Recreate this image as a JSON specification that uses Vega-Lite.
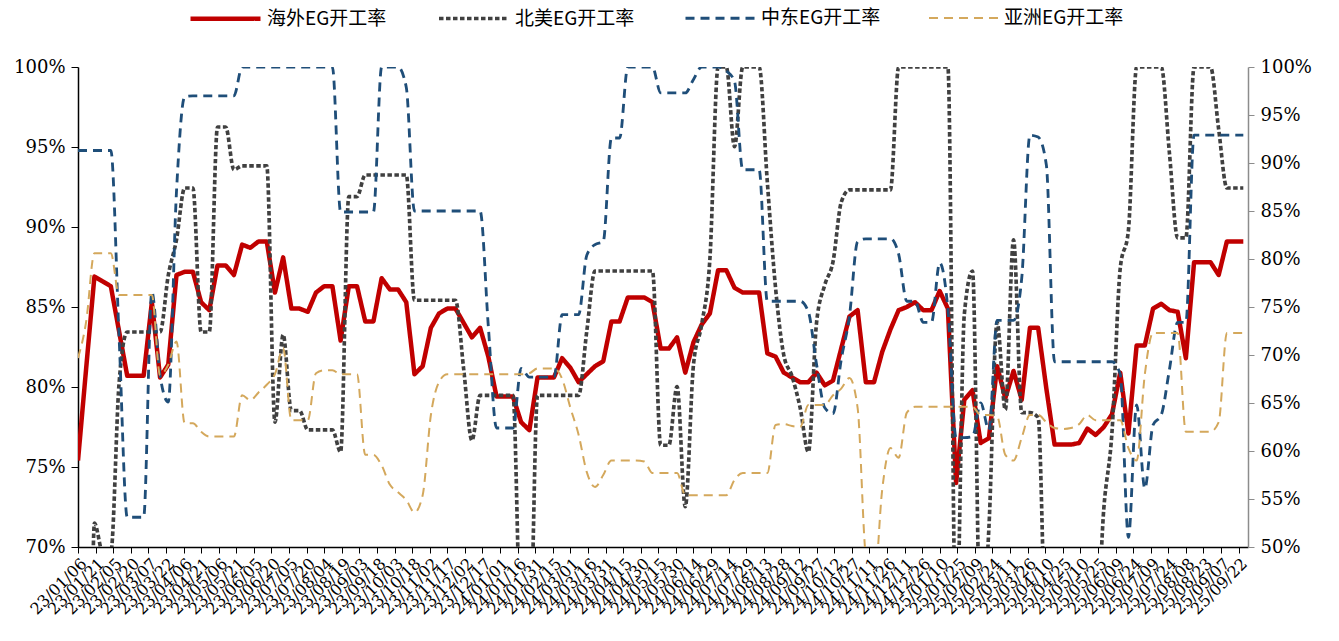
{
"$schema": "https://vega.github.io/schema/vega-lite/v6.json",
"width": 1170, "height": 480,
"autosize": "none",
"padding": {"left": 78, "top": 67, "right": 91, "bottom": 94},
"background": "white",
"config": {"view": {"stroke": null}, "axis": {"grid": false, "title": null, "labelFont": "DejaVu Serif", "labelColor": "#000000"},
 "legend": {"orient": "none", "legendX": 110, "legendY": -86, "direction": "horizontal", "title": null, "symbolType": "stroke", "symbolSize": 4900, "labelFont": "Noto Sans CJK SC", "labelFontSize": 19, "labelColor": "#000000", "labelOffset": 4, "columnPadding": 44, "labelLimit": 300}},
"data": {"values": [
{"date":"2023-01-06","海外EG开工率":75.4,"北美EG开工率":0,"中东EG开工率":91.3,"亚洲EG开工率":69.7},
{"date":"2023-01-13","海外EG开工率":81.2,"北美EG开工率":0,"中东EG开工率":91.3,"亚洲EG开工率":73.5},
{"date":"2023-01-20","海外EG开工率":86.9,"北美EG开工率":52.5,"中东EG开工率":91.3,"亚洲EG开工率":80.6},
{"date":"2023-01-27","海外EG开工率":86.6,"北美EG开工率":49.5,"中东EG开工率":91.3,"亚洲EG开工率":80.6},
{"date":"2023-02-03","海外EG开工率":86.3,"北美EG开工率":49.5,"中东EG开工率":91.3,"亚洲EG开工率":80.6},
{"date":"2023-02-10","海外EG开工率":83.5,"北美EG开工率":67,"中东EG开工率":72,"亚洲EG开工率":76.25},
{"date":"2023-02-17","海外EG开工率":80.7,"北美EG开工率":72.4,"中东EG开工率":53.1,"亚洲EG开工率":76.25},
{"date":"2023-02-24","海外EG开工率":80.7,"北美EG开工率":72.4,"中东EG开工率":53.1,"亚洲EG开工率":76.25},
{"date":"2023-03-03","海外EG开工率":80.7,"北美EG开工率":72.4,"中东EG开工率":53.1,"亚洲EG开工率":76.25},
{"date":"2023-03-10","海外EG开工率":85.3,"北美EG开工率":72.4,"中东EG开工率":76.6,"亚洲EG开工率":76.25},
{"date":"2023-03-17","海外EG开工率":80.6,"北美EG开工率":72.4,"中东EG开工率":67.9,"亚洲EG开工率":67.9},
{"date":"2023-03-24","海外EG开工率":81.4,"北美EG开工率":78.3,"中东EG开工率":65.1,"亚洲EG开工率":69.0},
{"date":"2023-03-31","海外EG开工率":87.0,"北美EG开工率":82,"中东EG开工率":87,"亚洲EG开工率":71.4},
{"date":"2023-04-07","海外EG开工率":87.2,"北美EG开工率":87.4,"中东EG开工率":96.9,"亚洲EG开工率":62.9},
{"date":"2023-04-14","海外EG开工率":87.2,"北美EG开工率":87.4,"中东EG开工率":97.0,"亚洲EG开工率":62.9},
{"date":"2023-04-21","海外EG开工率":85.3,"北美EG开工率":72.4,"中东EG开工率":97.0,"亚洲EG开工率":62.0},
{"date":"2023-04-28","海外EG开工率":84.8,"北美EG开工率":72.4,"中东EG开工率":97.0,"亚洲EG开工率":61.5},
{"date":"2023-05-05","海外EG开工率":87.6,"北美EG开工率":93.75,"中东EG开工率":97.0,"亚洲EG开工率":61.5},
{"date":"2023-05-12","海外EG开工率":87.6,"北美EG开工率":93.75,"中东EG开工率":97.0,"亚洲EG开工率":61.5},
{"date":"2023-05-19","海外EG开工率":87.0,"北美EG开工率":89.3,"中东EG开工率":97.0,"亚洲EG开工率":61.5},
{"date":"2023-05-26","海外EG开工率":88.9,"北美EG开工率":89.7,"中东EG开工率":100,"亚洲EG开工率":65.8},
{"date":"2023-06-02","海外EG开工率":88.7,"北美EG开工率":89.7,"中东EG开工率":100,"亚洲EG开工率":65.3},
{"date":"2023-06-09","海外EG开工率":89.1,"北美EG开工率":89.7,"中东EG开工率":100,"亚洲EG开工率":66.1},
{"date":"2023-06-16","海外EG开工率":89.1,"北美EG开工率":89.7,"中东EG开工率":100,"亚洲EG开工率":66.9},
{"date":"2023-06-23","海外EG开工率":85.9,"北美EG开工率":63.0,"中东EG开工率":100,"亚洲EG开工率":68.0},
{"date":"2023-06-30","海外EG开工率":88.1,"北美EG开工率":72.1,"中东EG开工率":100,"亚洲EG开工率":70.7},
{"date":"2023-07-07","海外EG开工率":84.9,"北美EG开工率":64.2,"中东EG开工率":100,"亚洲EG开工率":63.2},
{"date":"2023-07-14","海外EG开工率":84.9,"北美EG开工率":64.2,"中东EG开工率":100,"亚洲EG开工率":63.2},
{"date":"2023-07-21","海外EG开工率":84.7,"北美EG开工率":62.2,"中东EG开工率":100,"亚洲EG开工率":63.2},
{"date":"2023-07-28","海外EG开工率":85.9,"北美EG开工率":62.2,"中东EG开工率":100,"亚洲EG开工率":68.1},
{"date":"2023-08-04","海外EG开工率":86.3,"北美EG开工率":62.2,"中东EG开工率":100,"亚洲EG开工率":68.4},
{"date":"2023-08-11","海外EG开工率":86.3,"北美EG开工率":62.2,"中东EG开工率":100,"亚洲EG开工率":68.4},
{"date":"2023-08-18","海外EG开工率":82.9,"北美EG开工率":59.9,"中东EG开工率":84.9,"亚洲EG开工率":68.0},
{"date":"2023-08-25","海外EG开工率":86.3,"北美EG开工率":86.5,"中东EG开工率":84.9,"亚洲EG开工率":68.0},
{"date":"2023-09-01","海外EG开工率":86.3,"北美EG开工率":86.5,"中东EG开工率":84.9,"亚洲EG开工率":68.0},
{"date":"2023-09-08","海外EG开工率":84.1,"北美EG开工率":88.75,"中东EG开工率":84.9,"亚洲EG开工率":59.6},
{"date":"2023-09-15","海外EG开工率":84.1,"北美EG开工率":88.75,"中东EG开工率":84.9,"亚洲EG开工率":59.6},
{"date":"2023-09-22","海外EG开工率":86.8,"北美EG开工率":88.75,"中东EG开工率":100,"亚洲EG开工率":58.5},
{"date":"2023-09-29","海外EG开工率":86.1,"北美EG开工率":88.75,"中东EG开工率":100,"亚洲EG开工率":56.5},
{"date":"2023-10-06","海外EG开工率":86.1,"北美EG开工率":88.75,"中东EG开工率":100,"亚洲EG开工率":55.7},
{"date":"2023-10-13","海外EG开工率":85.3,"北美EG开工率":88.75,"中东EG开工率":97.9,"亚洲EG开工率":54.9},
{"date":"2023-10-20","海外EG开工率":80.8,"北美EG开工率":75.7,"中东EG开工率":85.0,"亚洲EG开工率":53.6},
{"date":"2023-10-27","海外EG开工率":81.3,"北美EG开工率":75.7,"中东EG开工率":85.0,"亚洲EG开工率":55.4},
{"date":"2023-11-03","海外EG开工率":83.7,"北美EG开工率":75.7,"中东EG开工率":85.0,"亚洲EG开工率":63.75},
{"date":"2023-11-10","海外EG开工率":84.6,"北美EG开工率":75.7,"中东EG开工率":85.0,"亚洲EG开工率":67.2},
{"date":"2023-11-17","海外EG开工率":84.9,"北美EG开工率":75.7,"中东EG开工率":85.0,"亚洲EG开工率":68.0},
{"date":"2023-11-24","海外EG开工率":84.9,"北美EG开工率":75.7,"中东EG开工率":85.0,"亚洲EG开工率":68.0},
{"date":"2023-12-01","海外EG开工率":84.0,"北美EG开工率":68.5,"中东EG开工率":85.0,"亚洲EG开工率":68.0},
{"date":"2023-12-08","海外EG开工率":83.1,"北美EG开工率":61.1,"中东EG开工率":85.0,"亚洲EG开工率":68.0},
{"date":"2023-12-15","海外EG开工率":83.7,"北美EG开工率":65.8,"中东EG开工率":85.0,"亚洲EG开工率":68.0},
{"date":"2023-12-22","海外EG开工率":81.9,"北美EG开工率":65.8,"中东EG开工率":73,"亚洲EG开工率":68.0},
{"date":"2023-12-29","海外EG开工率":79.4,"北美EG开工率":65.8,"中东EG开工率":62.4,"亚洲EG开工率":68.0},
{"date":"2024-01-05","海外EG开工率":79.4,"北美EG开工率":65.8,"中东EG开工率":62.4,"亚洲EG开工率":68.0},
{"date":"2024-01-12","海外EG开工率":79.4,"北美EG开工率":65.8,"中东EG开工率":62.4,"亚洲EG开工率":68.0},
{"date":"2024-01-19","海外EG开工率":77.8,"北美EG开工率":40,"中东EG开工率":68.6,"亚洲EG开工率":68.0},
{"date":"2024-01-26","海外EG开工率":77.3,"北美EG开工率":38,"中东EG开工率":67.7,"亚洲EG开工率":68.1},
{"date":"2024-02-02","海外EG开工率":80.6,"北美EG开工率":65.8,"中东EG开工率":67.7,"亚洲EG开工率":68.6},
{"date":"2024-02-09","海外EG开工率":80.6,"北美EG开工率":65.8,"中东EG开工率":67.7,"亚洲EG开工率":68.6},
{"date":"2024-02-16","海外EG开工率":80.6,"北美EG开工率":65.8,"中东EG开工率":67.7,"亚洲EG开工率":68.6},
{"date":"2024-02-23","海外EG开工率":81.8,"北美EG开工率":65.8,"中东EG开工率":74.2,"亚洲EG开工率":67.5},
{"date":"2024-03-01","海外EG开工率":81.2,"北美EG开工率":65.8,"中东EG开工率":74.2,"亚洲EG开工率":64.5},
{"date":"2024-03-08","海外EG开工率":80.3,"北美EG开工率":65.8,"中东EG开工率":74.2,"亚洲EG开工率":61.7},
{"date":"2024-03-15","海外EG开工率":80.8,"北美EG开工率":72.5,"中东EG开工率":80.4,"亚洲EG开工率":57.8},
{"date":"2024-03-22","海外EG开工率":81.3,"北美EG开工率":78.75,"中东EG开工率":81.5,"亚洲EG开工率":56.25},
{"date":"2024-03-29","海外EG开工率":81.6,"北美EG开工率":78.75,"中东EG开工率":81.8,"亚洲EG开工率":57.5},
{"date":"2024-04-05","海外EG开工率":84.1,"北美EG开工率":78.75,"中东EG开工率":92.6,"亚洲EG开工率":59.0},
{"date":"2024-04-12","海外EG开工率":84.1,"北美EG开工率":78.75,"中东EG开工率":92.6,"亚洲EG开工率":59.0},
{"date":"2024-04-19","海外EG开工率":85.6,"北美EG开工率":78.75,"中东EG开工率":100,"亚洲EG开工率":59.0},
{"date":"2024-04-26","海外EG开工率":85.6,"北美EG开工率":78.75,"中东EG开工率":100,"亚洲EG开工率":59.0},
{"date":"2024-05-03","海外EG开工率":85.6,"北美EG开工率":78.75,"中东EG开工率":100,"亚洲EG开工率":58.9},
{"date":"2024-05-10","海外EG开工率":85.3,"北美EG开工率":78.75,"中东EG开工率":100,"亚洲EG开工率":57.7},
{"date":"2024-05-17","海外EG开工率":82.4,"北美EG开工率":60.6,"中东EG开工率":97.3,"亚洲EG开工率":57.7},
{"date":"2024-05-24","海外EG开工率":82.4,"北美EG开工率":60.6,"中东EG开工率":97.3,"亚洲EG开工率":57.7},
{"date":"2024-05-31","海外EG开工率":83.1,"北美EG开工率":66.7,"中东EG开工率":97.3,"亚洲EG开工率":57.7},
{"date":"2024-06-07","海外EG开工率":80.9,"北美EG开工率":54.2,"中东EG开工率":97.3,"亚洲EG开工率":55.4},
{"date":"2024-06-14","海外EG开工率":82.8,"北美EG开工率":69,"中东EG开工率":98.7,"亚洲EG开工率":55.4},
{"date":"2024-06-21","海外EG开工率":83.9,"北美EG开工率":73.2,"中东EG开工率":100,"亚洲EG开工率":55.4},
{"date":"2024-06-28","海外EG开工率":84.6,"北美EG开工率":80,"中东EG开工率":100,"亚洲EG开工率":55.4},
{"date":"2024-07-05","海外EG开工率":87.3,"北美EG开工率":100,"中东EG开工率":100,"亚洲EG开工率":55.4},
{"date":"2024-07-12","海外EG开工率":87.3,"北美EG开工率":100,"中东EG开工率":99.6,"亚洲EG开工率":55.4},
{"date":"2024-07-19","海外EG开工率":86.2,"北美EG开工率":91.7,"中东EG开工率":98.5,"亚洲EG开工率":57.0},
{"date":"2024-07-26","海外EG开工率":85.9,"北美EG开工率":100,"中东EG开工率":89.3,"亚洲EG开工率":57.7},
{"date":"2024-08-02","海外EG开工率":85.9,"北美EG开工率":100,"中东EG开工率":89.3,"亚洲EG开工率":57.7},
{"date":"2024-08-09","海外EG开工率":85.9,"北美EG开工率":100,"中东EG开工率":89.3,"亚洲EG开工率":57.7},
{"date":"2024-08-16","海外EG开工率":82.1,"北美EG开工率":88,"中东EG开工率":75.6,"亚洲EG开工率":57.7},
{"date":"2024-08-23","海外EG开工率":81.9,"北美EG开工率":77,"中东EG开工率":75.6,"亚洲EG开工率":62.7},
{"date":"2024-08-30","海外EG开工率":80.9,"北美EG开工率":70,"中东EG开工率":75.6,"亚洲EG开工率":62.8},
{"date":"2024-09-06","海外EG开工率":80.6,"北美EG开工率":67.8,"中东EG开工率":75.6,"亚洲EG开工率":62.6},
{"date":"2024-09-13","海外EG开工率":80.3,"北美EG开工率":64.5,"中东EG开工率":75.6,"亚洲EG开工率":62.5},
{"date":"2024-09-20","海外EG开工率":80.3,"北美EG开工率":59.9,"中东EG开工率":74.5,"亚洲EG开工率":64.8},
{"date":"2024-09-27","海外EG开工率":80.9,"北美EG开工率":73.4,"中东EG开工率":69,"亚洲EG开工率":64.8},
{"date":"2024-10-04","海外EG开工率":80.1,"北美EG开工率":77.3,"中东EG开工率":64.5,"亚洲EG开工率":64.8},
{"date":"2024-10-11","海外EG开工率":80.4,"北美EG开工率":79.7,"中东EG开工率":63.9,"亚洲EG开工率":65.8},
{"date":"2024-10-18","海外EG开工率":82.4,"北美EG开工率":85.9,"中东EG开工率":69.5,"亚洲EG开工率":66.5},
{"date":"2024-10-25","海外EG开工率":84.4,"北美EG开工率":87.2,"中东EG开工率":74.0,"亚洲EG开工率":67.6},
{"date":"2024-11-01","海外EG开工率":84.8,"北美EG开工率":87.2,"中东EG开工率":81.8,"亚洲EG开工率":64.5},
{"date":"2024-11-08","海外EG开工率":80.3,"北美EG开工率":87.2,"中东EG开工率":82.1,"亚洲EG开工率":49},
{"date":"2024-11-15","海外EG开工率":80.3,"北美EG开工率":87.2,"中东EG开工率":82.1,"亚洲EG开工率":46},
{"date":"2024-11-22","海外EG开工率":82.2,"北美EG开工率":87.2,"中东EG开工率":82.1,"亚洲EG开工率":56},
{"date":"2024-11-29","海外EG开工率":83.6,"北美EG开工率":87.2,"中东EG开工率":82.1,"亚洲EG开工率":60.3},
{"date":"2024-12-06","海外EG开工率":84.8,"北美EG开工率":100,"中东EG开工率":80.5,"亚洲EG开工率":59.3},
{"date":"2024-12-13","海外EG开工率":85.0,"北美EG开工率":100,"中东EG开工率":75.6,"亚洲EG开工率":64.0},
{"date":"2024-12-20","海外EG开工率":85.3,"北美EG开工率":100,"中东EG开工率":75.6,"亚洲EG开工率":64.6},
{"date":"2024-12-27","海外EG开工率":84.8,"北美EG开工率":100,"中东EG开工率":73.4,"亚洲EG开工率":64.6},
{"date":"2025-01-03","海外EG开工率":84.8,"北美EG开工率":100,"中东EG开工率":73.4,"亚洲EG开工率":64.6},
{"date":"2025-01-10","海外EG开工率":86.0,"北美EG开工率":100,"中东EG开工率":79.6,"亚洲EG开工率":64.6},
{"date":"2025-01-17","海外EG开工率":84.9,"北美EG开工率":100,"中东EG开工率":74.8,"亚洲EG开工率":64.6},
{"date":"2025-01-24","海外EG开工率":74.0,"北美EG开工率":40,"中东EG开工率":61.4,"亚洲EG开工率":64.6},
{"date":"2025-01-31","海外EG开工率":79.2,"北美EG开工率":74.2,"中东EG开工率":61.4,"亚洲EG开工率":64.6},
{"date":"2025-02-07","海外EG开工率":79.8,"北美EG开工率":78.75,"中东EG开工率":61.5,"亚洲EG开工率":64.6},
{"date":"2025-02-14","海外EG开工率":76.5,"北美EG开工率":40,"中东EG开工率":65.0,"亚洲EG开工率":63.75},
{"date":"2025-02-21","海外EG开工率":76.8,"北美EG开工率":52,"中东EG开工率":62.2,"亚洲EG开工率":63.75},
{"date":"2025-02-28","海外EG开工率":81.3,"北美EG开工率":73.4,"中东EG开工率":73.6,"亚洲EG开工率":63.6},
{"date":"2025-03-07","海外EG开工率":79.3,"北美EG开工率":64.3,"中东EG开工率":73.6,"亚洲EG开工率":59.6},
{"date":"2025-03-14","海外EG开工率":81.0,"北美EG开工率":82.0,"中东EG开工率":73.6,"亚洲EG开工率":59.0},
{"date":"2025-03-21","海外EG开工率":79.2,"北美EG开工率":64.0,"中东EG开工率":78,"亚洲EG开工率":61.4},
{"date":"2025-03-28","海外EG开工率":83.7,"北美EG开工率":64.0,"中东EG开工率":92.9,"亚洲EG开工率":63.75},
{"date":"2025-04-04","海外EG开工率":83.7,"北美EG开工率":63.5,"中东EG开工率":92.7,"亚洲EG开工率":63.75},
{"date":"2025-04-11","海外EG开工率":79.9,"北美EG开工率":40,"中东EG开工率":89.8,"亚洲EG开工率":63.0},
{"date":"2025-04-18","海外EG开工率":76.4,"北美EG开工率":40,"中东EG开工率":69.3,"亚洲EG开工率":62.4},
{"date":"2025-04-25","海外EG开工率":76.4,"北美EG开工率":40,"中东EG开工率":69.3,"亚洲EG开工率":62.3},
{"date":"2025-05-02","海外EG开工率":76.4,"北美EG开工率":40,"中东EG开工率":69.3,"亚洲EG开工率":62.4},
{"date":"2025-05-09","海外EG开工率":76.5,"北美EG开工率":40,"中东EG开工率":69.3,"亚洲EG开工率":62.8},
{"date":"2025-05-16","海外EG开工率":77.4,"北美EG开工率":40,"中东EG开工率":69.3,"亚洲EG开工率":63.75},
{"date":"2025-05-23","海外EG开工率":77.0,"北美EG开工率":40,"中东EG开工率":69.3,"亚洲EG开工率":63.2},
{"date":"2025-05-30","海外EG开工率":77.5,"北美EG开工率":54,"中东EG开工率":69.3,"亚洲EG开工率":63.2},
{"date":"2025-06-06","海外EG开工率":78.3,"北美EG开工率":62,"中东EG开工率":69.3,"亚洲EG开工率":63.2},
{"date":"2025-06-13","海外EG开工率":80.9,"北美EG开工率":79,"中东EG开工率":68,"亚洲EG开工率":63.2},
{"date":"2025-06-20","海外EG开工率":77.1,"北美EG开工率":83,"中东EG开工率":51,"亚洲EG开工率":60.3},
{"date":"2025-06-27","海外EG开工率":82.6,"北美EG开工率":100,"中东EG开工率":64.8,"亚洲EG开工率":59.0},
{"date":"2025-07-04","海外EG开工率":82.6,"北美EG开工率":100,"中东EG开工率":56.1,"亚洲EG开工率":68},
{"date":"2025-07-11","海外EG开工率":84.9,"北美EG开工率":100,"中东EG开工率":62.7,"亚洲EG开工率":72.3},
{"date":"2025-07-18","海外EG开工率":85.2,"北美EG开工率":100,"中东EG开工率":63.75,"亚洲EG开工率":72.3},
{"date":"2025-07-25","海外EG开工率":84.8,"北美EG开工率":91,"中东EG开工率":68.5,"亚洲EG开工率":72.3},
{"date":"2025-08-01","海外EG开工率":84.7,"北美EG开工率":82.2,"中东EG开工率":73.4,"亚洲EG开工率":72.3},
{"date":"2025-08-08","海外EG开工率":81.8,"北美EG开工率":82.2,"中东EG开工率":73.4,"亚洲EG开工率":62.0},
{"date":"2025-08-15","海外EG开工率":87.8,"北美EG开工率":100,"中东EG开工率":92.9,"亚洲EG开工率":62.0},
{"date":"2025-08-22","海外EG开工率":87.8,"北美EG开工率":100,"中东EG开工率":92.9,"亚洲EG开工率":62.0},
{"date":"2025-08-29","海外EG开工率":87.8,"北美EG开工率":100,"中东EG开工率":92.9,"亚洲EG开工率":62.0},
{"date":"2025-09-05","海外EG开工率":87.0,"北美EG开工率":93.5,"中东EG开工率":92.9,"亚洲EG开工率":63},
{"date":"2025-09-12","海外EG开工率":89.1,"北美EG开工率":87.4,"中东EG开工率":92.9,"亚洲EG开工率":72.3},
{"date":"2025-09-19","海外EG开工率":89.1,"北美EG开工率":87.4,"中东EG开工率":92.9,"亚洲EG开工率":72.3},
{"date":"2025-09-26","海外EG开工率":89.1,"北美EG开工率":87.4,"中东EG开工率":92.9,"亚洲EG开工率":72.3}
]},
"transform": [{"fold": ["海外EG开工率", "北美EG开工率", "中东EG开工率", "亚洲EG开工率"], "as": ["series", "value"]}],
"encoding": {
 "x": {"field": "date", "type": "temporal",
  "scale": {"type": "utc", "domain": [{"year": 2023, "month": 1, "date": 6, "utc": true}, {"year": 2025, "month": 9, "date": 30, "utc": true}]},
  "axis": {"format": "%y/%m/%d", "labelAngle": -45, "labelFontSize": 16, "labelOverlap": false, "labelBound": false, "tickSize": 6, "tickColor": "#000000", "domainColor": "#000000", "domainWidth": 1.5, "labelPadding": 2,
   "values": [
{"year":2023,"month":1,"date":6,"utc":true},{"year":2023,"month":1,"date":21,"utc":true},{"year":2023,"month":2,"date":5,"utc":true},{"year":2023,"month":2,"date":20,"utc":true},{"year":2023,"month":3,"date":7,"utc":true},{"year":2023,"month":3,"date":22,"utc":true},{"year":2023,"month":4,"date":6,"utc":true},{"year":2023,"month":4,"date":21,"utc":true},{"year":2023,"month":5,"date":6,"utc":true},{"year":2023,"month":5,"date":21,"utc":true},{"year":2023,"month":6,"date":5,"utc":true},{"year":2023,"month":6,"date":20,"utc":true},{"year":2023,"month":7,"date":5,"utc":true},{"year":2023,"month":7,"date":20,"utc":true},{"year":2023,"month":8,"date":4,"utc":true},{"year":2023,"month":8,"date":19,"utc":true},{"year":2023,"month":9,"date":3,"utc":true},{"year":2023,"month":9,"date":18,"utc":true},{"year":2023,"month":10,"date":3,"utc":true},{"year":2023,"month":10,"date":18,"utc":true},{"year":2023,"month":11,"date":2,"utc":true},{"year":2023,"month":11,"date":17,"utc":true},{"year":2023,"month":12,"date":2,"utc":true},{"year":2023,"month":12,"date":17,"utc":true},
{"year":2024,"month":1,"date":1,"utc":true},{"year":2024,"month":1,"date":16,"utc":true},{"year":2024,"month":1,"date":31,"utc":true},{"year":2024,"month":2,"date":15,"utc":true},{"year":2024,"month":3,"date":1,"utc":true},{"year":2024,"month":3,"date":16,"utc":true},{"year":2024,"month":3,"date":31,"utc":true},{"year":2024,"month":4,"date":15,"utc":true},{"year":2024,"month":4,"date":30,"utc":true},{"year":2024,"month":5,"date":15,"utc":true},{"year":2024,"month":5,"date":30,"utc":true},{"year":2024,"month":6,"date":14,"utc":true},{"year":2024,"month":6,"date":29,"utc":true},{"year":2024,"month":7,"date":14,"utc":true},{"year":2024,"month":7,"date":29,"utc":true},{"year":2024,"month":8,"date":13,"utc":true},{"year":2024,"month":8,"date":28,"utc":true},{"year":2024,"month":9,"date":12,"utc":true},{"year":2024,"month":9,"date":27,"utc":true},{"year":2024,"month":10,"date":12,"utc":true},{"year":2024,"month":10,"date":27,"utc":true},{"year":2024,"month":11,"date":11,"utc":true},{"year":2024,"month":11,"date":26,"utc":true},{"year":2024,"month":12,"date":11,"utc":true},{"year":2024,"month":12,"date":26,"utc":true},
{"year":2025,"month":1,"date":10,"utc":true},{"year":2025,"month":1,"date":25,"utc":true},{"year":2025,"month":2,"date":9,"utc":true},{"year":2025,"month":2,"date":24,"utc":true},{"year":2025,"month":3,"date":11,"utc":true},{"year":2025,"month":3,"date":26,"utc":true},{"year":2025,"month":4,"date":10,"utc":true},{"year":2025,"month":4,"date":25,"utc":true},{"year":2025,"month":5,"date":10,"utc":true},{"year":2025,"month":5,"date":25,"utc":true},{"year":2025,"month":6,"date":9,"utc":true},{"year":2025,"month":6,"date":24,"utc":true},{"year":2025,"month":7,"date":9,"utc":true},{"year":2025,"month":7,"date":24,"utc":true},{"year":2025,"month":8,"date":8,"utc":true},{"year":2025,"month":8,"date":23,"utc":true},{"year":2025,"month":9,"date":7,"utc":true},{"year":2025,"month":9,"date":22,"utc":true}
   ]}},
 "color": {"field": "series", "type": "nominal", "scale": {"domain": ["海外EG开工率", "北美EG开工率", "中东EG开工率", "亚洲EG开工率"], "range": ["#C00000", "#404040", "#1F4E79", "#D4A85C"]}},
 "strokeDash": {"field": "series", "type": "nominal", "scale": {"domain": ["海外EG开工率", "北美EG开工率", "中东EG开工率", "亚洲EG开工率"], "range": [[1, 0], [4.5, 2.5], [9, 6], [9, 6]]}},
 "strokeWidth": {"field": "series", "type": "nominal", "scale": {"domain": ["海外EG开工率", "北美EG开工率", "中东EG开工率", "亚洲EG开工率"], "range": [4.5, 2, 2.5, 2.5]}}
},
"layer": [
 {"transform": [{"filter": "datum.series === '海外EG开工率'"}],
  "mark": {"type": "line", "clip": true, "interpolate": "linear", "strokeJoin": "round"},
  "encoding": {"y": {"field": "value", "type": "quantitative", "scale": {"domain": [70, 100], "zero": false, "nice": false},
   "axis": {"orient": "left", "values": [70, 75, 80, 85, 90, 95, 100], "labelExpr": "datum.value + '%'", "labelFontSize": 18, "tickSize": 7, "tickColor": "#000000", "domainColor": "#000000", "domainWidth": 1.5, "labelPadding": 6}}}},
 {"transform": [{"filter": "datum.series !== '海外EG开工率'"}],
  "mark": {"type": "line", "clip": true, "interpolate": "monotone"},
  "encoding": {"y": {"field": "value", "type": "quantitative", "scale": {"domain": [50, 100], "zero": false, "nice": false},
   "axis": {"orient": "right", "values": [50, 55, 60, 65, 70, 75, 80, 85, 90, 95, 100], "labelExpr": "datum.value + '%'", "labelFontSize": 18, "tickSize": 6, "tickColor": "#8c8c8c", "domainColor": "#8c8c8c", "domainWidth": 1.5, "labelPadding": 6}}}}
],
"resolve": {"scale": {"y": "independent"}}
}
